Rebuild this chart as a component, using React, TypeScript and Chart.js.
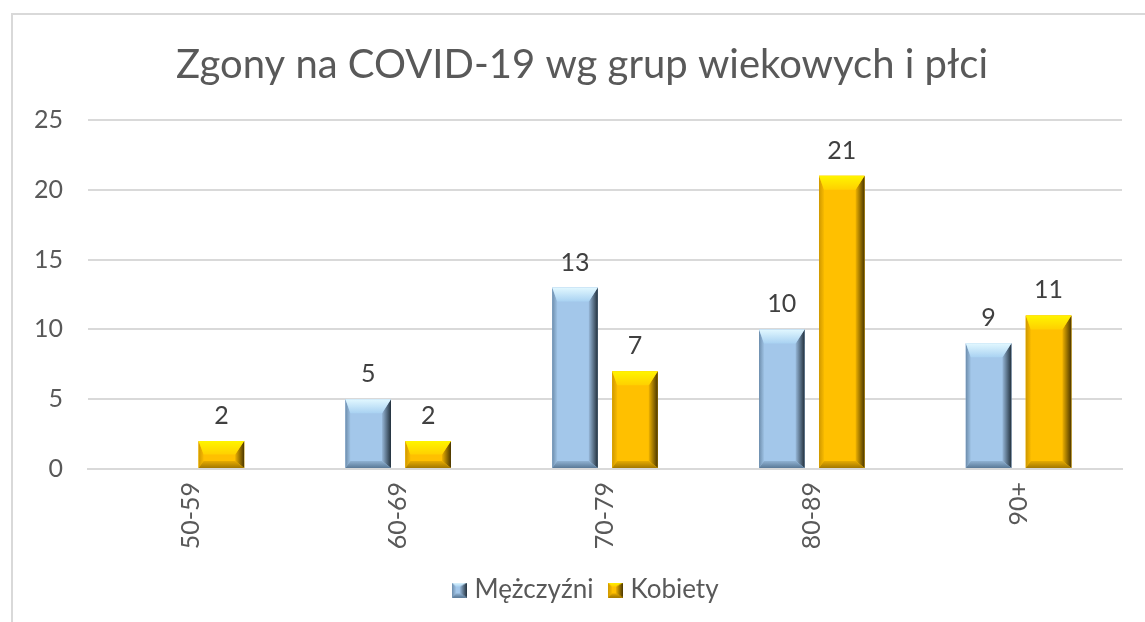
import React, { useEffect, useRef } from "react";
import { Chart, registerables } from "chart.js";

Chart.register(...registerables);

const chartTitle = "Zgony na COVID-19 wg grup wiekowych i płci";
const categories = ["50-59", "60-69", "70-79", "80-89", "90+"];
const seriesNames = ["Mężczyźni", "Kobiety"];
const menValues: (number | null)[] = [null, 5, 13, 10, 9];
const womenValues: (number | null)[] = [2, 2, 7, 21, 11];
const yMin = 0;
const yMax = 25;
const yStep = 5;

const FONT = "Lato, 'Open Sans', sans-serif";

const palettes = [
  {
    face: "#A3C7EA",
    top1: "#E2F8FF", top2: "#A9D2F2",
    left1: "#6D8DAC", left2: "#9EC2E4",
    right1: "#97B8D9", right2: "#22303C",
    bot1: "#90B2D2", bot2: "#5A7997",
  },
  {
    face: "#FFC000",
    top1: "#FFF500", top2: "#FFD000",
    left1: "#CF9800", left2: "#F8BA00",
    right1: "#EEB200", right2: "#4A3600",
    bot1: "#E6AB00", bot2: "#A37800",
  },
];

function poly(ctx: CanvasRenderingContext2D, pts: number[][], fill: any) {
  ctx.beginPath();
  ctx.moveTo(pts[0][0], pts[0][1]);
  for (let i = 1; i < pts.length; i++) ctx.lineTo(pts[i][0], pts[i][1]);
  ctx.closePath();
  ctx.fillStyle = fill;
  ctx.fill();
}

function drawBevel(ctx: CanvasRenderingContext2D, L: number, T: number, R: number, B: number, p: any, sizes: number[]) {
  const [bt, bb, bl, br] = sizes;
  ctx.fillStyle = p.face;
  ctx.fillRect(L, T, R - L, B - T);
  let g = ctx.createLinearGradient(L, 0, L + bl, 0);
  g.addColorStop(0, p.left1);
  g.addColorStop(1, p.left2);
  poly(ctx, [[L, T], [L + bl, T + bt], [L + bl, B - bb], [L, B]], g);
  g = ctx.createLinearGradient(R - br, 0, R, 0);
  g.addColorStop(0, p.right1);
  g.addColorStop(1, p.right2);
  poly(ctx, [[R, T], [R, B], [R - br, B - bb], [R - br, T + bt]], g);
  g = ctx.createLinearGradient(0, B - bb, 0, B);
  g.addColorStop(0, p.bot1);
  g.addColorStop(1, p.bot2);
  poly(ctx, [[L, B], [R, B], [R - br, B - bb], [L + bl, B - bb]], g);
  g = ctx.createLinearGradient(0, T, 0, T + bt);
  g.addColorStop(0, p.top1);
  g.addColorStop(1, p.top2);
  poly(ctx, [[L, T], [R, T], [R - br, T + bt], [L + bl, T + bt]], g);
}

function makeIcon(p: any) {
  const c = document.createElement("canvas");
  c.width = 15;
  c.height = 15;
  const ctx = c.getContext("2d")!;
  drawBevel(ctx, 0, 0, 15, 15, p, [4, 4, 4, 7]);
  return c;
}

const bgPlugin = {
  id: "bgBorder",
  beforeDraw(chart: any) {
    const ctx = chart.ctx;
    ctx.save();
    ctx.fillStyle = "#FFFFFF";
    ctx.fillRect(0, 0, chart.width, chart.height);
    ctx.strokeStyle = "#D9D9D9";
    ctx.lineWidth = 2;
    ctx.beginPath();
    ctx.moveTo(12, chart.height);
    ctx.lineTo(12, 14);
    ctx.lineTo(chart.width, 14);
    ctx.stroke();
    ctx.restore();
  },
};

const shiftPlugin = {
  id: "shiftBlocks",
  afterLayout(chart: any) {
    if (chart.titleBlock) {
      chart.titleBlock.left += 11;
      chart.titleBlock.right += 11;
    }
    if (chart.legend) {
      chart.legend.left += 17;
      chart.legend.right += 17;
    }
  },
};

const bevelPlugin = {
  id: "bevelBars",
  afterDatasetsDraw(chart: any) {
    const ctx = chart.ctx;
    ctx.save();
    chart.data.datasets.forEach((ds: any, i: number) => {
      const meta = chart.getDatasetMeta(i);
      const p = palettes[i];
      meta.data.forEach((bar: any, j: number) => {
        const v = ds.data[j];
        if (v == null) return;
        const { x, y, base, width } = bar.getProps(["x", "y", "base", "width"], true);
        const L = x - width / 2;
        const R = x + width / 2;
        const T = Math.min(y, base);
        const B = Math.max(y, base);
        const h = B - T;
        const bt = Math.min(14, h * 0.5);
        const bb = Math.min(7, h * 0.3);
        const bl = Math.min(5, width * 0.15);
        const br = Math.min(9, width * 0.2);
        drawBevel(ctx, L, T, R, B, p, [bt, bb, bl, br]);
        ctx.fillStyle = "#404040";
        ctx.font = `25px ${FONT}`;
        ctx.textAlign = "center";
        ctx.textBaseline = "alphabetic";
        ctx.fillText(String(v), x, T - 17);
      });
    });
    ctx.restore();
  },
};

export default function App() {
  const ref = useRef<HTMLCanvasElement | null>(null);

  useEffect(() => {
    document.body.style.margin = "0";
    const canvas = ref.current;
    if (!canvas) return;
    const icons = palettes.map((p) => makeIcon(p));
    const chart = new Chart(canvas, {
      type: "bar",
      data: {
        labels: categories,
        datasets: [
          {
            label: seriesNames[0],
            data: menValues,
            backgroundColor: palettes[0].face,
            borderWidth: 0,
            categoryPercentage: 0.58,
            barPercentage: 0.76,
          },
          {
            label: seriesNames[1],
            data: womenValues,
            backgroundColor: palettes[1].face,
            borderWidth: 0,
            categoryPercentage: 0.58,
            barPercentage: 0.76,
          },
        ],
      },
      options: {
        responsive: false,
        animation: false,
        layout: { padding: { left: 20, right: 23, top: 0, bottom: 9 } },
        scales: {
          x: {
            grid: { display: false },
            border: { display: true, color: "#D9D9D9", width: 2 },
            ticks: {
              color: "#595959",
              font: { family: FONT, size: 25 },
              minRotation: 90,
              maxRotation: 90,
              padding: 5,
            },
            afterFit: (s: any) => {
              s.height = 88;
            },
          },
          y: {
            min: yMin,
            max: yMax,
            ticks: {
              stepSize: yStep,
              color: "#595959",
              font: { family: FONT, size: 25 },
              padding: 25,
            },
            grid: { color: "#D9D9D9", lineWidth: 2, drawTicks: false },
            border: { display: false },
            afterFit: (s: any) => {
              s.width = 68;
            },
          },
        },
        plugins: {
          title: {
            display: true,
            text: chartTitle,
            color: "#595959",
            font: { family: FONT, size: 40, weight: "normal" },
            padding: { top: 41, bottom: 31 },
          },
          legend: {
            position: "bottom",
            labels: {
              color: "#595959",
              font: { family: FONT, size: 26 },
              usePointStyle: true,
              pointStyleWidth: 4,
              boxWidth: 4,
              padding: 20,
              generateLabels: (c: any) => {
                const items = (Chart.defaults.plugins.legend.labels as any).generateLabels(c);
                items.forEach((it: any, i: number) => {
                  it.pointStyle = icons[i];
                });
                return items;
              },
            },
          },
          tooltip: { enabled: false },
        },
      },
      plugins: [bgPlugin, shiftPlugin, bevelPlugin],
    } as any);
    return () => chart.destroy();
  }, []);

  return (
    <div style={{ width: 1145, height: 622 }}>
      <canvas ref={ref} width={1145} height={622} style={{ display: "block" }} />
    </div>
  );
}
